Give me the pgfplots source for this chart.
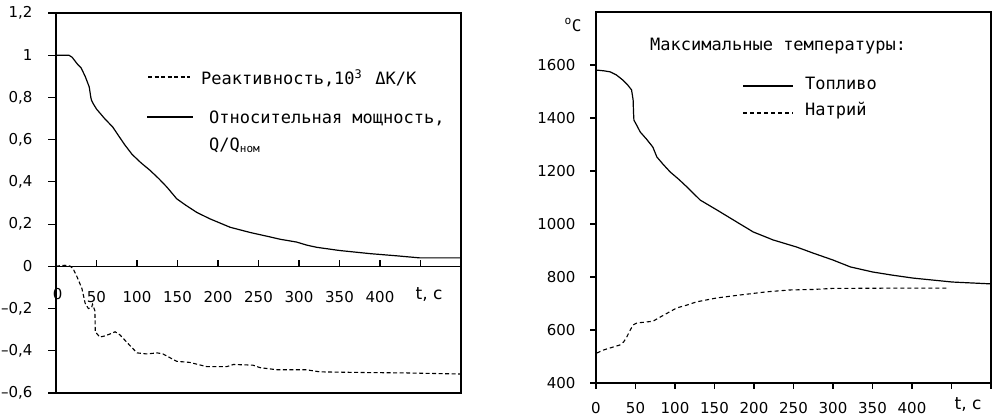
\documentclass[border=0pt]{standalone}
\usepackage{fontspec}
\setmainfont{DejaVu Sans}
\newfontfamily\mono{DejaVu Sans Mono}
\usepackage{pgfplots}
\pgfplotsset{compat=1.18}

\begin{document}
\begin{tikzpicture}[x=1pt,y=1pt]
\useasboundingbox (0,0) rectangle (992,419);

\begin{axis}[
  at={(56pt,26pt)}, anchor=south west,
  scale only axis, width=405pt, height=380pt,
  xmin=0, xmax=500, ymin=-0.6, ymax=1.2,
  axis x line=middle, axis y line=left,
  axis line style={-, line width=1.3pt},
  xtick={0,50,100,150,200,250,300,350,400,450,500},
  xticklabels={0,50,100,150,200,250,300,350,400,{},{}},
  ytick={-0.6,-0.4,-0.2,0,0.2,0.4,0.6,0.8,1,1.2},
  yticklabels={{–0,6},{–0,4},{–0,2},0,{0,2},{0,4},{0,6},{0,8},1,{1,2}},
  major tick length=8pt,
  xtick style={draw=none},
  ytick style={line width=1.1pt, black},
  ytick align=outside,
  ticklabel style={font=\fontsize{15}{17}\selectfont},
  xticklabel style={yshift=-18pt},
  yticklabel style={xshift=-12pt},
  clip=false,
]
\draw[line width=1.3pt] (rel axis cs:0,0) rectangle (rel axis cs:1,1);
\pgfplotsinvokeforeach{0,50,100,150,200,250,300,350,400,450,500}{
  \draw[line width=1.1pt] (axis cs:#1,0) -- ++(0pt,6pt);
}
\node[font=\fontsize{15}{17}\selectfont] at (axis cs:2,-0.133) {0};
\addplot[black, line width=1.1pt, dash pattern=on 4pt off 2.5pt] coordinates {
(0,0) (5,0.003) (11,0.005) (17,0.002) (21,-0.01) (26,-0.05) (32,-0.105) (36,-0.175) (40,-0.2) (44,-0.195) (45,-0.18) (48,-0.21) (48.5,-0.31) (54,-0.335) (60,-0.33) (67,-0.32) (73,-0.31) (79,-0.325) (90,-0.37) (100,-0.41) (112,-0.415) (125,-0.41) (132,-0.415) (149,-0.45) (165,-0.455) (186,-0.475) (211,-0.475) (219,-0.465) (243,-0.468) (252,-0.48) (273,-0.49) (309,-0.49) (326,-0.5) (380,-0.503) (433,-0.505) (499,-0.51)
};
\addplot[black, line width=1.2pt] coordinates {
(0,1.0) (16,1.0) (20,0.99) (27,0.955) (31,0.94) (36,0.90) (41,0.85) (43,0.80) (44,0.785) (46,0.77) (50,0.745) (60,0.70) (70,0.66) (77,0.62) (85,0.575) (94,0.53) (105,0.49) (116,0.455) (127,0.415) (137,0.375) (149,0.32) (160,0.29) (174,0.255) (190,0.225) (215,0.185) (240,0.16) (260,0.143) (277,0.128) (297,0.115) (310,0.10) (322,0.09) (350,0.075) (388,0.06) (420,0.05) (449,0.04) (500,0.04)
};
\end{axis}

\begin{axis}[
  at={(596pt,36pt)}, anchor=south west,
  scale only axis, width=395pt, height=371pt,
  xmin=0, xmax=500, ymin=400, ymax=1800,
  axis line style={line width=1.3pt},
  xtick={0,50,100,150,200,250,300,350,400,450,500},
  xticklabels={0,50,100,150,200,250,300,350,400,{},{}},
  ytick={400,600,800,1000,1200,1400,1600},
  yticklabels={400,600,800,1000,1200,1400,1600},
  xtick pos=bottom, ytick pos=left,
  tick align=outside,
  major tick length=6pt,
  tick style={line width=1.1pt, black},
  ticklabel style={font=\fontsize{15}{17}\selectfont},
  xticklabel style={yshift=-10pt},
  yticklabel style={xshift=-11pt},
  clip=false,
]
\addplot[black, line width=1.2pt] coordinates {
(0,1581) (10,1578) (18,1574) (26,1562) (34,1543) (40,1525) (45,1506) (47,1468) (47.5,1420) (48,1392) (52,1370) (56,1347) (64,1320) (72,1290) (77,1253) (85,1225) (94,1196) (105,1168) (115,1140) (132,1090) (153,1053) (174,1015) (199,970) (224,940) (254,913) (275,890) (300,864) (322,838) (350,819) (375,807) (401,796) (451,781) (500,774)
};
\addplot[black, line width=1.1pt, dash pattern=on 4pt off 3pt] coordinates {
(1,513) (10,525) (22,536) (30,543) (35,555) (39,574) (43,598) (47,619) (52,627) (60,629) (72,633) (85,655) (102,683) (115,694) (127,706) (153,721) (182,732) (216,744) (245,751) (275,753) (300,757) (385,758) (444,758)
};
\end{axis}

% legends and labels
\begin{scope}[every node/.style={inner sep=0pt}]
\draw[black, line width=1.1pt, dash pattern=on 4pt off 2.5pt] (148,342) -- (190,342);
\node[anchor=west, font=\mono\fontsize{17}{20}\selectfont] at (201,341) {Реактивность,10\textsuperscript{3}\, ΔK/K};
\draw[black, line width=1.2pt] (147,302) -- (193,302);
\node[anchor=west, font=\mono\fontsize{17}{20}\selectfont] at (209,301) {Относительная мощность,};
\node[anchor=west, font=\mono\fontsize{17}{20}\selectfont] at (209,274) {Q/Q\raisebox{-2pt}{\fontsize{11}{12}\selectfont ном}};
\node[font=\fontsize{17}{20}\selectfont] at (429,124) {t, c};

\node[anchor=west, font=\mono\fontsize{17}{20}\selectfont] at (650,373) {Максимальные температуры:};
\draw[black, line width=1.2pt] (743,333) -- (793,333);
\node[anchor=west, font=\mono\fontsize{17}{20}\selectfont] at (805,336) {Топливо};
\draw[black, line width=1.1pt, dash pattern=on 4pt off 3pt] (743,306) -- (793,306);
\node[anchor=west, font=\mono\fontsize{17}{20}\selectfont] at (805,308) {Натрий};
\node[font=\mono\fontsize{16}{18}\selectfont] at (573,394) {\textsuperscript{o}C};
\node[font=\fontsize{17}{20}\selectfont] at (968,14) {t, c};
\end{scope}
\end{tikzpicture}
\end{document}
